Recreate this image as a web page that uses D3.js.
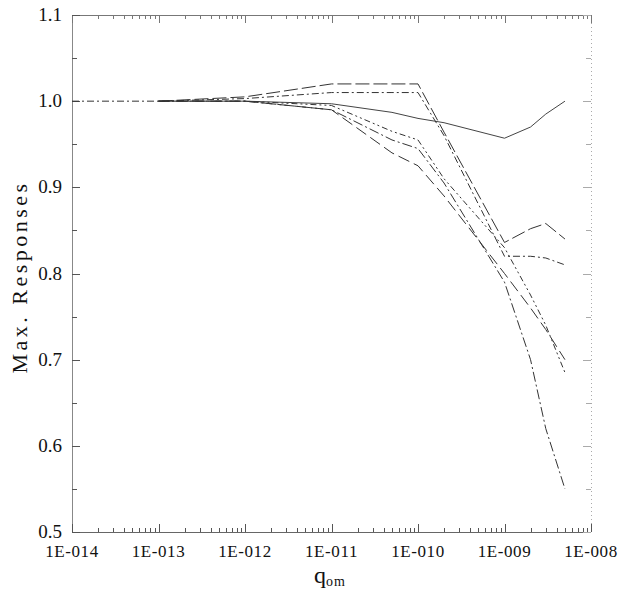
<!DOCTYPE html>
<html><head><meta charset="utf-8">
<script src="https://cdn.jsdelivr.net/npm/d3@7"></script>
<style>
body{margin:0;background:#fff;}
</style></head>
<body><svg id="c" width="620" height="593"></svg>
<script>
const qValues = [1e-14, 1e-13, 1e-12, 1e-11, 5e-11, 1e-10, 2e-10, 1e-9, 2e-9, 3e-9, 5e-9];
const seriesSolid      = [null, 1.0, 1.0, 0.997, 0.987, 0.98, 0.975, 0.957, 0.97, 0.985, 1.0];
const seriesLongDashHi = [null, 1.0, 1.005, 1.02, 1.02, 1.02, 0.964, 0.836, 0.852, 0.858, 0.84];
const seriesDashDotHi  = [1.0, 1.0, 1.003, 1.01, 1.01, 1.01, 0.96, 0.82, 0.82, 0.818, 0.81];
const seriesLongDashLo = [null, 1.0, 1.0, 0.99, 0.94, 0.925, 0.89, 0.80, 0.76, 0.735, 0.70];
const seriesDashDotDot = [null, 1.0, 1.0, 0.995, 0.965, 0.955, 0.91, 0.83, 0.775, 0.74, 0.685];
const seriesDashLow    = [null, 1.0, 1.0, 0.99, 0.955, 0.945, 0.905, 0.79, 0.70, 0.62, 0.55];
const seriesDash = ["", "14,4", "7,3,2,3", "12,5", "6,3,2,3,2,3", "10,3,2,3"];
const yTicks = [0.5, 0.6, 0.7, 0.8, 0.9, 1.0, 1.1];
const xTickLabels = ["1E-014","1E-013","1E-012","1E-011","1E-010","1E-009","1E-008"];

const allSeries = [seriesSolid, seriesLongDashHi, seriesDashDotHi, seriesLongDashLo, seriesDashDotDot, seriesDashLow];
const FONT = "'Liberation Serif', 'Times New Roman', Times, serif";

const svg = d3.select("#c");
const L = 72, R = 591, T = 15, B = 532;
const x = d3.scaleLog().domain([1e-14, 1e-8]).range([L, R]);
const y = d3.scaleLinear().domain([0.5, 1.1]).range([B, T]);

// frame
svg.append("line").attr("x1",L+0.5).attr("x2",L+0.5).attr("y1",T).attr("y2",B).attr("stroke","#888").attr("stroke-width",1);
svg.append("line").attr("x1",L).attr("x2",R).attr("y1",B+0.5).attr("y2",B+0.5).attr("stroke","#666").attr("stroke-width",1);
svg.append("line").attr("x1",L).attr("x2",R).attr("y1",T+0.5).attr("y2",T+0.5).attr("stroke","#777").attr("stroke-width",1);
svg.append("line").attr("x1",R+0.5).attr("x2",R+0.5).attr("y1",T).attr("y2",B).attr("stroke","#aaa").attr("stroke-width",1).attr("stroke-dasharray","1,3");

// log ticks
const xt = [];
for (let e=-14; e<-8; e++) for (let m=1; m<10; m++) xt.push({v: m*Math.pow(10,e), major: m===1});
xt.push({v:1e-8, major:true});
const tg = svg.append("g").attr("stroke","#555").attr("stroke-width",1);
xt.forEach(t=>{
  const px = Math.round(x(t.v))+0.5, len = t.major?8:4;
  tg.append("line").attr("x1",px).attr("x2",px).attr("y1",B).attr("y2",B-len);
  tg.append("line").attr("x1",px).attr("x2",px).attr("y1",T).attr("y2",T+len).attr("stroke","#777");
});
// y ticks
d3.range(0.5, 1.1001, 0.05).forEach((v,i)=>{
  const py = Math.round(y(v))+0.5, len = (i%2===0)?8:5;
  tg.append("line").attr("x1",L).attr("x2",L+len).attr("y1",py).attr("y2",py);
  tg.append("line").attr("x1",R).attr("x2",R-len).attr("y1",py).attr("y2",py).attr("stroke","#aaa");
});

// tick labels
svg.selectAll(".yl").data(yTicks).enter().append("text")
  .attr("font-family",FONT).attr("fill","#111")
  .attr("x", L-10).attr("y", d=>y(d)+6).attr("text-anchor","end")
  .attr("font-size",19).text(d=>d.toFixed(1));
svg.selectAll(".xl").data(xTickLabels).enter().append("text")
  .attr("font-family",FONT).attr("fill","#111")
  .attr("x",(d,i)=>x(Math.pow(10,-14+i))).attr("y",557).attr("text-anchor","middle")
  .attr("font-size",17).attr("letter-spacing","0.6px").text(d=>d);

// axis titles
svg.append("text").attr("font-family",FONT).attr("fill","#111")
  .attr("transform","translate(27,277) rotate(-90)")
  .attr("text-anchor","middle").attr("font-size",22).attr("letter-spacing","3.5px").text("Max. Responses");
const xt2 = svg.append("text").attr("font-family",FONT).attr("fill","#111").attr("x",314).attr("y",583).attr("font-size",24);
xt2.append("tspan").text("q");
xt2.append("tspan").attr("font-size",14).attr("dy",3).attr("letter-spacing","1px").text("om");

// data lines
const line = d3.line().defined(d=>d[1]!==null).x(d=>x(d[0])).y(d=>y(d[1]));
allSeries.forEach((s,i)=>{
  svg.append("path").datum(qValues.map((q,j)=>[q,s[j]]))
    .attr("d", line).attr("fill","none")
    .attr("stroke", i===0?"#444":"#333").attr("stroke-width",1)
    .attr("stroke-dasharray", seriesDash[i]);
});
</script></body></html>
